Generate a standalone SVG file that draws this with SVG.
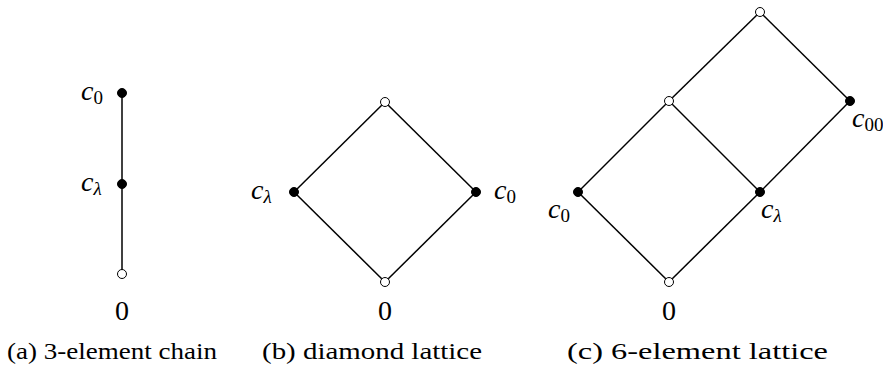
<svg xmlns="http://www.w3.org/2000/svg" width="883" height="367" viewBox="0 0 883 367">
<style>
.e{stroke:#000;stroke-width:1.5;fill:none}
.f{fill:#000;stroke:#000;stroke-width:1}
.o{fill:#fff;stroke:#000;stroke-width:1}
text{fill:#000}
.m{font-size:28px}
.v{font-style:italic}
.s{font-size:19px}
.c{font-size:23px}
</style>
<rect width="883" height="367" fill="#fff"/>
<g id="connectors">
<line class="e" x1="122" y1="93" x2="122" y2="274"/>
<line class="e" x1="385" y1="102" x2="294" y2="192"/>
<line class="e" x1="385" y1="102" x2="476" y2="192"/>
<line class="e" x1="294" y1="192" x2="385" y2="282"/>
<line class="e" x1="476" y1="192" x2="385" y2="282"/>
<line class="e" x1="760" y1="12" x2="669" y2="101"/>
<line class="e" x1="760" y1="12" x2="850" y2="101"/>
<line class="e" x1="669" y1="101" x2="578" y2="192"/>
<line class="e" x1="669" y1="101" x2="760" y2="192"/>
<line class="e" x1="850" y1="101" x2="760" y2="192"/>
<line class="e" x1="578" y1="192" x2="669" y2="282"/>
<line class="e" x1="760" y1="192" x2="669" y2="282"/>
</g>
<g font-family="Liberation Serif, Times New Roman, serif">
<g id="a-c0"><circle class="f" cx="122" cy="93" r="4.5"/><text class="m" x="81" y="100"><tspan class="v">c</tspan><tspan class="s" dy="4">0</tspan></text></g>
<g id="a-cl"><circle class="f" cx="122" cy="184" r="4.5"/><text class="m" x="81" y="191"><tspan class="v">c</tspan><tspan class="s v" dy="4">λ</tspan></text></g>
<g id="a-0"><circle class="o" cx="122" cy="274" r="4.5"/><text class="m" x="122" y="320" text-anchor="middle">0</text></g>
<g id="b-top"><circle class="o" cx="385" cy="102" r="4.5"/></g>
<g id="b-cl"><circle class="f" cx="294" cy="192" r="4.5"/><text class="m" x="251" y="199"><tspan class="v">c</tspan><tspan class="s v" dy="4">λ</tspan></text></g>
<g id="b-c0"><circle class="f" cx="476" cy="192" r="4.5"/><text class="m" x="494" y="199"><tspan class="v">c</tspan><tspan class="s" dy="4">0</tspan></text></g>
<g id="b-0"><circle class="o" cx="385" cy="282" r="4.5"/><text class="m" x="385" y="320" text-anchor="middle">0</text></g>
<g id="c-top"><circle class="o" cx="760" cy="12" r="4.5"/></g>
<g id="c-mid"><circle class="o" cx="669" cy="101" r="4.5"/></g>
<g id="c-c00"><circle class="f" cx="850" cy="101" r="4.5"/><text class="m" x="852" y="127"><tspan class="v">c</tspan><tspan class="s" dy="4">00</tspan></text></g>
<g id="c-c0"><circle class="f" cx="578" cy="192" r="4.5"/><text class="m" x="548" y="218"><tspan class="v">c</tspan><tspan class="s" dy="4">0</tspan></text></g>
<g id="c-cl"><circle class="f" cx="760" cy="192" r="4.5"/><text class="m" x="761" y="218"><tspan class="v">c</tspan><tspan class="s v" dy="4">λ</tspan></text></g>
<g id="c-0"><circle class="o" cx="669" cy="282" r="4.5"/><text class="m" x="669" y="320" text-anchor="middle">0</text></g>
<text class="c" x="7" y="359" textLength="210" lengthAdjust="spacingAndGlyphs">(a) 3-element chain</text>
<text class="c" x="262" y="359" textLength="220" lengthAdjust="spacingAndGlyphs">(b) diamond lattice</text>
<text class="c" x="567" y="359" textLength="261" lengthAdjust="spacingAndGlyphs">(c) 6-element lattice</text>
</g>
</svg>
